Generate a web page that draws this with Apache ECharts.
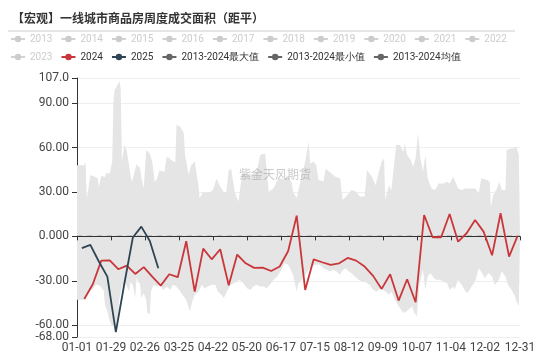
<!DOCTYPE html>
<html>
<head>
<meta charset="utf-8">
<script src="https://cdn.jsdelivr.net/npm/echarts@6.0.0/dist/echarts.min.js"></script>
<style>html,body{margin:0;padding:0;background:#fff;}#c{width:550px;height:356px;}</style>
</head>
<body>
<div id="c"></div>
<script>
// ---- data ----
const titleText = '【宏观】一线城市商品房周度成交面积（距平）';
const tickLabels = ['01-01','01-29','02-26','03-25','04-22','05-20','06-17','07-15','08-12','09-09','10-07','11-04','12-02','12-31'];
const hiddenYears = ['2013','2014','2015','2016','2017','2018','2019','2020','2021','2022','2023'];

// weekly series: first day index (0 = 01-01) and weekly values
const start2024 = 6;
const values2024 = [-42.3,-32.4,-16.4,-16.2,-22.2,-19.8,-25.4,-20.8,-27.2,-33.3,-25.6,-27.6,-3.3,-37.3,-8.3,-15.5,-8.7,-33.0,-12.3,-18.2,-21.3,-21.1,-23.4,-20.4,-9.9,14.0,-36.2,-15.5,-17.5,-19.3,-18.2,-14.6,-16.4,-20.4,-26.7,-35.5,-25.6,-43.4,-29.0,-44.5,14.4,-0.6,-0.6,15.1,-3.6,2.1,11.1,3.2,-12.8,15.6,-13.7,0.3];
const start2025 = 4;
const values2025 = [-8.0,-5.8,-17.0,-27.2,-64.7,-32.0,-0.8,6.6,-3.1,-21.5];

// 2013-2024 max envelope (day index, value)
const maxDays = [0,6,7,8,9,11,17,18,20,23,24,27,29,30,31,34,35,36,37,39,41,44,45,46,49,50,52,53,55,57,60,62,64,66,68,72,74,77,79,81,82,85,88,89,92,94,97,100,101,104,107,110,112,115,118,121,123,125,127,130,133,136,140,144,148,151,155,156,158,162,166,170,174,177,178,181,184,188,191,192,195,197,199,203,205,208,213,217,218,219,224,226,230,233,237,239,243,246,248,251,253,254,257,259,263,266,269,270,272,275,277,279,281,283,285,287,289,292,295,298,302,305,307,310,311,314,317,320,324,328,331,333,338,340,341,343,346,348,350,353,354,357,360,362,364,365];
const maxValues = [48,48,50.5,25.7,30,41.5,39.5,33.6,41,40,42.6,42.6,50.4,90.9,98.8,103.3,104.8,100,50.4,61.7,58,41.6,37,39,48.8,48,46,39.6,32.5,58.3,56,50.4,36.9,39,44.6,43.5,54,52,51,50,75.2,74,69.6,55,41.6,48,50.4,34.7,25.7,30.2,29.8,30.2,31.3,38.9,33.6,29.8,29.8,44.6,45.7,30,23.5,41.6,42.6,41.6,43.8,55,56,55,30.2,32.5,39.6,38.4,40.6,36,30.2,25.7,36.9,50.4,63.9,49.3,50.4,48.2,38.2,37.1,45.7,43.5,40.2,39.1,30.2,24.6,29.1,31.3,30.2,27,27,44.6,40.2,34.6,41.3,50.4,52.6,24.6,34.6,31.3,61.7,61.7,57.2,62.8,54.9,51.5,47,52.6,69.6,52.6,43.5,54.9,39.1,32.4,31.3,35.8,35.8,36.9,35.8,40.2,41.3,32.4,31.3,32.4,32.4,32.4,29.1,39.1,38,36.9,20,27.9,32.4,36.9,31.3,31.3,58.3,59.4,59.4,60.5,55,54];

// 2013-2024 min envelope (day index, value)
const minDays = [0,5,7,9,13,16,19,22,23,25,27,29,30,33,35,37,40,41,43,44,46,48,49,52,53,55,57,58,60,61,63,66,68,71,74,77,79,82,85,88,90,93,95,97,100,103,105,108,111,114,116,119,121,123,125,127,132,134,137,140,143,145,148,151,154,156,159,162,165,169,171,174,178,181,182,185,188,191,193,196,200,203,206,208,211,214,217,218,221,224,226,229,232,235,237,241,244,247,250,254,257,259,262,265,268,270,273,276,278,280,282,284,285,287,289,291,294,296,299,302,305,307,310,311,314,317,320,322,325,328,331,333,336,339,342,344,347,350,353,355,358,361,362,364,365];
const minValues = [-42.8,-42.8,-41.7,-38.4,-35.4,-32.4,-33.5,-36.6,-46.2,-50.6,-57.4,-60.8,-62,-59.8,-41.7,-34,-31.9,-33,-37.5,-30.8,-33,-41.7,-28.2,-32.6,-41.6,-38.2,-42.8,-51.8,-52.4,-37.3,-32.8,-33.9,-31.7,-36.2,-33.9,-36,-32.7,-33.8,-37.2,-40.6,-42.8,-50.7,-43.9,-39.5,-37.2,-32.7,-35,-33.8,-32.7,-32.7,-37.2,-39.5,-41.7,-38.3,-35,-32.7,-30.5,-29.3,-31.6,-35,-36,-33.8,-32.7,-33.8,-33.8,-35,-32.7,-29.3,-27.1,-21.5,-18.1,-19.2,-26,-37.2,-32.7,-29.3,-26,-22.6,-20.3,-19.2,-19.2,-21.5,-22.6,-23.7,-22.6,-23.7,-26,-23.7,-21.5,-23.7,-24.8,-27.1,-29.3,-30.5,-30.5,-32.7,-36,-37.2,-35,-37.2,-39.5,-37.2,-42.8,-47.3,-50.7,-51.8,-49.6,-47.3,-51.8,-54,-33.8,-26,-22.6,-36,-27.1,-24.8,-28.2,-29.3,-29.3,-30.5,-31.6,-36,-33.8,-36,-29.3,-32.7,-37.2,-38.3,-33.8,-30.5,-21.5,-23.7,-28.2,-24.8,-27.1,-32.7,-30.5,-23.7,-27.1,-32.7,-36,-40.6,-43.9,-47.3,-48.4];

// 2013-2024 mean (deviation from mean is zero)
const meanDays = [0, 365];
const meanValues = [0, 0];

// ---- build ----
const days = [];
for (let i = 0; i < 366; i++) {
  const d = new Date(Date.UTC(2024, 0, 1) + i * 86400000);
  days.push(String(d.getUTCMonth() + 1).padStart(2, '0') + '-' + String(d.getUTCDate()).padStart(2, '0'));
}
const weekly = (start, vals) => vals.map((v, k) => [start + 7 * k, v]);
const pairs = (ds, vs) => ds.map((d, k) => [d, vs[k]]);
const showTick = (idx) => tickLabels.includes(days[idx]) && !(idx === 364);

const FONT = 'Noto Sans CJK SC, Noto Sans, sans-serif';
const LFONT = 'Liberation Sans Narrow, Roboto, sans-serif';
const selected = {};
hiddenYears.forEach(y => selected[y] = false);

const series = [];
hiddenYears.forEach(y => series.push({
  name: y, type: 'line', data: [], symbol: 'circle', showSymbol: false,
  itemStyle: {color: '#ccc'}, lineStyle: {color: '#ccc'}
}));
const bandStyle = {
  type: 'line', symbol: 'circle', showSymbol: false, symbolSize: 6, z: 1,
  itemStyle: {color: '#666'}, lineStyle: {width: 0, color: '#666'},
  areaStyle: {color: '#e5e5e5', opacity: 1, origin: 'auto'},
  emphasis: {disabled: true}
};
series.push(Object.assign({name: '2013-2024最大值', data: pairs(maxDays, maxValues)}, bandStyle));
series.push(Object.assign({name: '2013-2024最小值', data: pairs(minDays, minValues)}, bandStyle));
series.push({
  name: '2013-2024均值', type: 'line', data: pairs(meanDays, meanValues), symbol: 'circle', showSymbol: false, z: 3,
  itemStyle: {color: '#666'}, lineStyle: {color: '#555', width: 1.2, type: [5, 5]}
});
series.push({
  name: '2024', type: 'line', data: weekly(start2024, values2024), symbol: 'circle', showSymbol: false, z: 5,
  itemStyle: {color: '#c9373a'}, lineStyle: {color: '#c9373a', width: 1.8}
});
series.push({
  name: '2025', type: 'line', data: weekly(start2025, values2025), symbol: 'circle', showSymbol: false, z: 6,
  itemStyle: {color: '#2f4554'}, lineStyle: {color: '#2f4554', width: 1.8}
});

const legendCommon = {
  orient: 'horizontal', left: 10, itemWidth: 14, itemHeight: 8, itemGap: 8, padding: 0,
  textStyle: {fontSize: 10, color: '#333', fontFamily: LFONT},
  inactiveColor: '#ccc', selected: selected
};
const bandLegend = (n) => ({name: n, lineStyle: {width: 2, color: '#666'}, itemStyle: {color: '#666'}});

const chart = echarts.init(document.getElementById('c'), null, {renderer: 'canvas'});
chart.setOption({
  animation: false,
  backgroundColor: '#fff',
  title: {text: titleText, left: 12, top: 12, padding: 0,
    textStyle: {fontSize: 12, fontWeight: 'bold', color: '#333', fontFamily: FONT}},
  graphic: [
    {type: 'line', shape: {x1: 8, y1: 31, x2: 515, y2: 31}, style: {stroke: '#ccc', lineWidth: 1}, silent: true},
    {type: 'text', left: 'center', top: 168, z: 10, silent: true,
      style: {text: '紫金天风期货', fill: 'rgba(140,140,140,0.45)', font: '12px ' + FONT}}
  ],
  legend: [
    Object.assign({top: 34, data: hiddenYears.slice(0, 10)}, legendCommon),
    Object.assign({top: 52, data: ['2023', '2024', '2025', bandLegend('2013-2024最大值'), bandLegend('2013-2024最小值'), bandLegend('2013-2024均值')]}, legendCommon)
  ],
  grid: {left: 77, right: 30, top: 78, bottom: 19, containLabel: false},
  xAxis: [
    {type: 'category', data: days, boundaryGap: false, position: 'bottom', z: 4,
      axisLine: {show: true, onZero: true, lineStyle: {color: '#333', width: 1}},
      axisTick: {show: true, interval: showTick, length: 4, lineStyle: {color: '#333'}},
      axisLabel: {show: false}, splitLine: {show: false}},
    {type: 'category', data: days, boundaryGap: false, position: 'bottom',
      axisLine: {show: false, onZero: false}, axisTick: {show: false},
      axisLabel: {show: true, interval: showTick, margin: 5, fontSize: 12, color: '#444', fontFamily: LFONT},
      splitLine: {show: false}}
  ],
  yAxis: {type: 'value', min: -68, max: 107,
    axisLine: {show: true, lineStyle: {color: '#333'}},
    axisTick: {show: true, length: 5, lineStyle: {color: '#333'}},
    axisLabel: {fontSize: 12, color: '#444', margin: 8, fontFamily: LFONT, formatter: v => Number(v).toPrecision(4)},
    splitLine: {show: true, lineStyle: {color: '#eee', width: 1}}},
  series: series
});
</script>
</body>
</html>
